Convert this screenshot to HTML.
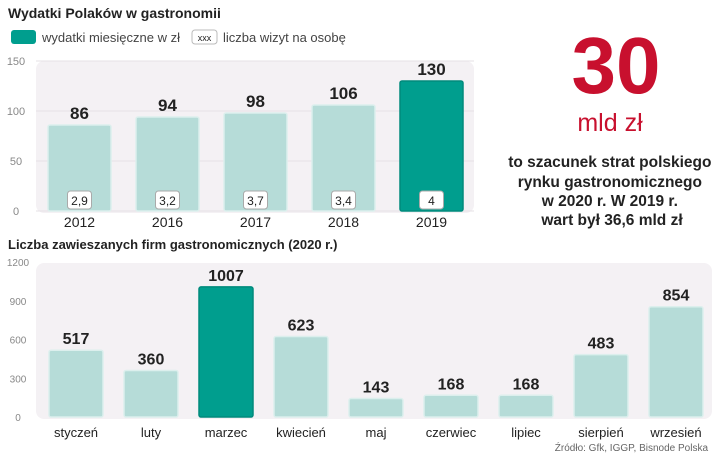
<!DOCTYPE html>
<html><head><meta charset="utf-8"><style>
body{margin:0;background:#fff;}
svg{display:block;font-family:"Liberation Sans",sans-serif;}
</style></head><body>
<svg id="c" width="720" height="456" viewBox="0 0 720 456">
<text x="8" y="18" font-size="14" font-weight="bold" fill="#222">Wydatki Polaków w gastronomii</text>
<g>
<rect x="11" y="30" width="25" height="14" rx="3" fill="#009e8e"/>
<text x="42" y="42" font-size="13" fill="#444">wydatki miesięczne w zł</text>
<rect x="192" y="30" width="25" height="14" rx="3" fill="#fff" stroke="#bbb"/>
<text x="204.5" y="41" font-size="9" text-anchor="middle" fill="#222">xxx</text>
<text x="223" y="42" font-size="13" fill="#444">liczba wizyt na osobę</text>
</g>
<rect x="36" y="61" width="438" height="152" rx="8" fill="#f4f1f4"/>
<rect x="36" y="263" width="676" height="156" rx="8" fill="#f4f1f4"/>
<text x="8" y="249" font-size="13" font-weight="bold" fill="#222">Liczba zawieszanych firm gastronomicznych (2020 r.)</text>
<g>
<text x="616" y="93" font-size="80" font-weight="bold" fill="#c8102e" text-anchor="middle">30</text>
<text x="610" y="131" font-size="25" fill="#c8102e" text-anchor="middle">mld zł</text>
<text font-size="15.5" font-weight="bold" fill="#222" text-anchor="middle">
<tspan x="612" y="167">to szacunek strat polskiego</tspan>
<tspan x="612" y="187">rynku gastronomicznego</tspan>
<tspan x="612" y="206">w 2020 r. W 2019 r.</tspan>
<tspan x="612" y="225">wart był 36,6 mld zł</tspan>
</text>
</g>
<text x="708" y="451" font-size="10" fill="#666" text-anchor="end">Źródło: Gfk, IGGP, Bisnode Polska</text>
<g id="top"></g><g id="bot"></g>
</svg>
<script>
const topYears = ["2012","2016","2017","2018","2019"];
const topSpending = [86,94,98,106,130];
const topVisits = ["2,9","3,2","3,7","3,4","4"];
const topTicks = [0,50,100,150];
const botMonths = ["styczeń","luty","marzec","kwiecień","maj","czerwiec","lipiec","sierpień","wrzesień"];
const botCounts = [517,360,1007,623,143,168,168,483,854];
const botTicks = [0,300,600,900,1200];
const botHighlight = "marzec";
const topHighlight = "2019";

const NS="http://www.w3.org/2000/svg";
function mk(p,tag,at,txt){const e=document.createElementNS(NS,tag);for(const k in at)e.setAttribute(k,at[k]);if(txt!==undefined)e.textContent=txt;p.appendChild(e);return e;}

const tg=document.getElementById('top');
const tY=v=>211-v*(150/150);
const tX=i=>48+i*88;
topTicks.forEach(t=>{
  const g=mk(tg,'line',{x1:36,x2:474,y1:tY(t),y2:tY(t),stroke:'#e6e1e6','stroke-width':1});
  
  
  const l=mk(tg,'text',{x:16,y:tY(t)+4,'font-size':11,fill:'#888','text-anchor':'middle'},String(t));
  
  
});
topYears.forEach((y,i)=>{
  const x=tX(i),w=63,v=topSpending[i],hi=y===topHighlight;
  const b=mk(tg,'rect',{x:x,y:tY(v),width:w,height:tY(0)-tY(v),rx:2,fill:hi?'#009e8e':'#b6dcd8',stroke:hi?'#008a7c':'#dcefed','stroke-width':1.5});
  
  
  const vl=mk(tg,'text',{x:x+w/2,y:tY(v)-6,'font-size':17,'font-weight':'bold',fill:'#222','text-anchor':'middle'},String(v));
  
  
  const bx=mk(tg,'rect',{x:x+w/2-12,y:191,width:24,height:18,rx:3,fill:'#fff',stroke:'#aaa','stroke-width':1});
  
  
  const vt=mk(tg,'text',{x:x+w/2,y:205,'font-size':12,fill:'#222','text-anchor':'middle'},topVisits[i]);
  
  
  const xl=mk(tg,'text',{x:x+w/2,y:227,'font-size':14,fill:'#222','text-anchor':'middle'},y);
  
  
});

const bg=document.getElementById('bot');
const bY=v=>417-v*(155/1200);
const bX=i=>49+i*75;
botTicks.forEach(t=>{
  const l=mk(bg,'text',{x:18,y:bY(t)+4,'font-size':10,fill:'#888','text-anchor':'middle'},String(t));
  
  
});
botMonths.forEach((m,i)=>{
  const x=bX(i),w=54,v=botCounts[i],hi=m===botHighlight;
  const b=mk(bg,'rect',{x:x,y:bY(v),width:w,height:bY(0)-bY(v),rx:2,fill:hi?'#009e8e':'#b6dcd8',stroke:hi?'#008a7c':'#dcefed','stroke-width':1.5});
  
  
  const vl=mk(bg,'text',{x:x+w/2,y:bY(v)-6,'font-size':16,'font-weight':'bold',fill:'#222','text-anchor':'middle'},String(v));
  
  
  const xl=mk(bg,'text',{x:x+w/2,y:437,'font-size':13,fill:'#222','text-anchor':'middle'},m);
  
  
});
</script>
</body></html>
